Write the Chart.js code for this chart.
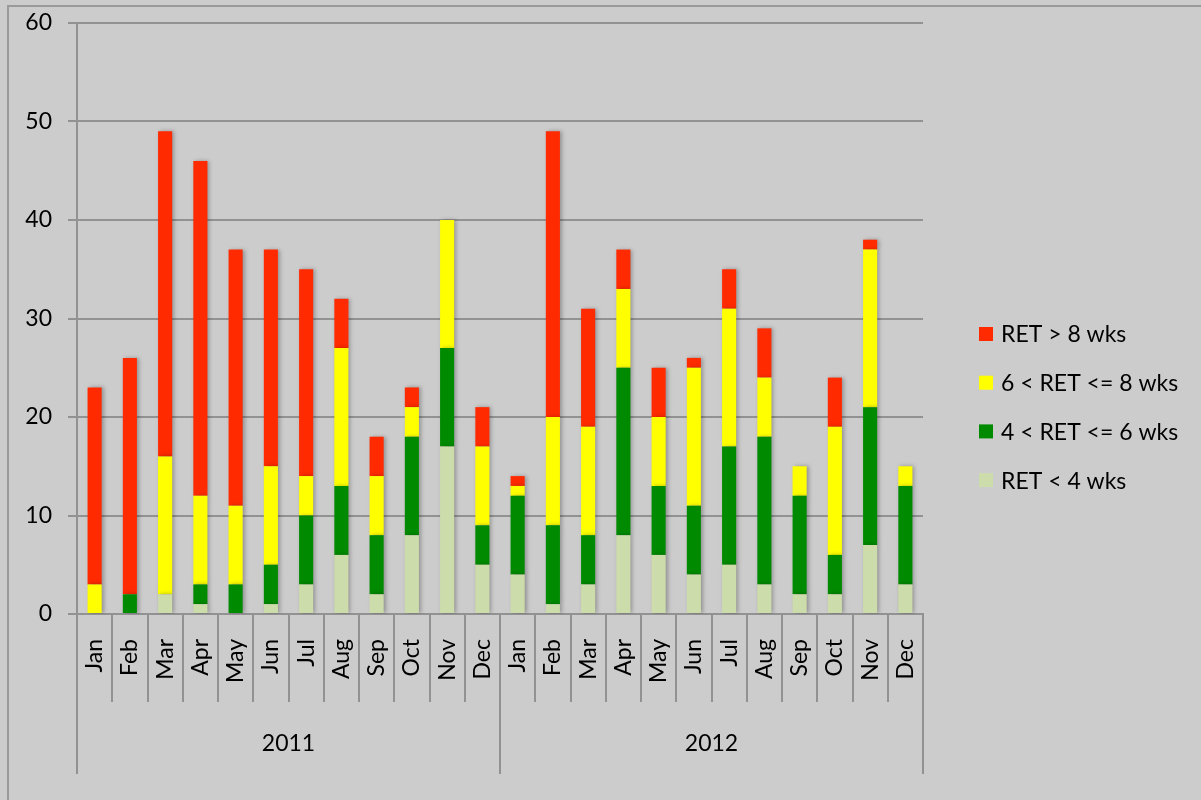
<!DOCTYPE html>
<html>
<head>
<meta charset="utf-8">
<script src="https://cdn.jsdelivr.net/npm/chart.js@4/dist/chart.umd.min.js"></script>
<style>
  html, body { margin: 0; padding: 0; background: #cccccc; }
  canvas { display: block; }
</style>
</head>
<body>
<canvas id="chart" width="1201" height="800"></canvas>
<script>
// RET distribution per month, stacked bottom-up
const months = ['Jan','Feb','Mar','Apr','May','Jun','Jul','Aug','Sep','Oct','Nov','Dec',
                'Jan','Feb','Mar','Apr','May','Jun','Jul','Aug','Sep','Oct','Nov','Dec'];
const years = ['2011', '2012'];
const yTicks = [0, 10, 20, 30, 40, 50, 60];

const under4  = [0,0,2,1,0,1,3,6,2,8,17,5,   4,1,3,8,6,4,5,3,2,2,7,3];
const from4to6 = [0,2,0,2,3,4,7,7,6,10,10,4, 8,8,5,17,7,7,12,15,10,4,14,10];
const from6to8 = [3,0,14,9,8,10,4,14,6,3,13,8, 1,11,11,8,7,14,14,6,3,13,16,2];
const over8   = [20,24,33,34,26,22,21,5,4,2,0,4, 1,29,12,4,5,1,4,5,0,5,1,0];

const FONT = 'Lato';
const FSIZE = 23;
const GRID = '#929292';

// background, frame, bar shadow and legend
const decor = {
  id: 'decor',
  beforeDraw(chart) {
    const ctx = chart.ctx;
    ctx.save();
    ctx.fillStyle = '#cccccc';
    ctx.fillRect(0, 0, chart.width, chart.height);
    ctx.strokeStyle = '#9a9a9a';
    ctx.lineWidth = 2;
    ctx.beginPath();
    ctx.moveTo(8, chart.height);
    ctx.lineTo(8, 6);
    ctx.lineTo(chart.width, 6);
    ctx.stroke();
    ctx.restore();
  },
  beforeDatasetsDraw(chart) {
    const ctx = chart.ctx;
    ctx.save();
    ctx.shadowColor = 'rgba(0,0,0,0.28)';
    ctx.shadowBlur = 4;
    ctx.shadowOffsetX = 2;
    ctx.shadowOffsetY = 0;
  },
  afterDatasetsDraw(chart) {
    chart.ctx.restore();
  },
  afterDraw(chart) {
    const ctx = chart.ctx;
    const ds = chart.data.datasets;
    ctx.save();
    ctx.font = FSIZE + 'px ' + FONT;
    ctx.textBaseline = 'middle';
    ctx.textAlign = 'left';
    const x0 = 979, y0 = 334, step = 48.7;
    for (let i = ds.length - 1, row = 0; i >= 0; i--, row++) {
      const y = y0 + row * step;
      ctx.fillStyle = ds[i].backgroundColor;
      ctx.fillRect(x0, y - 7, 14, 14);
      ctx.fillStyle = '#000';
      ctx.fillText(ds[i].label, x0 + 22, y + 1);
    }
    ctx.restore();
  }
};

const ctx = document.getElementById('chart').getContext('2d');
new Chart(ctx, {
  type: 'bar',
  data: {
    labels: months,
    datasets: [
      { label: 'RET < 4 wks', data: under4, backgroundColor: '#cddcab' },
      { label: '4 < RET <= 6 wks', data: from4to6, backgroundColor: '#008a00' },
      { label: '6 < RET <= 8 wks', data: from6to8, backgroundColor: '#ffff00' },
      { label: 'RET > 8 wks', data: over8, backgroundColor: '#ff2a00' }
    ]
  },
  options: {
    responsive: false,
    animation: false,
    layout: { padding: { left: 0, top: 23, right: 278, bottom: 26 } },
    datasets: { bar: { barPercentage: 0.4, categoryPercentage: 1, borderWidth: 0 } },
    plugins: {
      legend: { display: false },
      tooltip: { enabled: false }
    },
    scales: {
      x: {
        stacked: true,
        offset: true,
        weight: 0,
        afterFit: s => { s.height = 88; },
        grid: { offset: true, drawOnChartArea: false, tickLength: 88, color: GRID, lineWidth: 2 },
        border: { color: GRID, width: 2 },
        ticks: {
          autoSkip: false, minRotation: 90, maxRotation: 90, padding: -63,
          color: '#000', font: { family: FONT, size: FSIZE }
        }
      },
      year: {
        type: 'category',
        labels: years,
        position: 'bottom',
        offset: true,
        weight: 1,
        afterFit: s => { s.height = 72; },
        grid: { offset: true, drawOnChartArea: false, tickLength: 72, color: GRID, lineWidth: 2 },
        border: { display: false },
        ticks: { padding: -44, color: '#000', font: { family: FONT, size: FSIZE } }
      },
      y: {
        stacked: true,
        min: 0,
        max: 60,
        // fixed axis width, and no extra top room for the label padding
        afterFit: s => { s.width = 77; s.paddingTop = 0; s.paddingBottom = 0; },
        afterBuildTicks: s => { s.ticks = yTicks.map(v => ({ value: v })); },
        grid: { color: GRID, lineWidth: 2, tickLength: 9 },
        border: { color: GRID, width: 2 },
        ticks: { padding: 16, color: '#000', font: { family: FONT, size: FSIZE } }
      }
    }
  },
  plugins: [decor]
});
</script>
</body>
</html>
